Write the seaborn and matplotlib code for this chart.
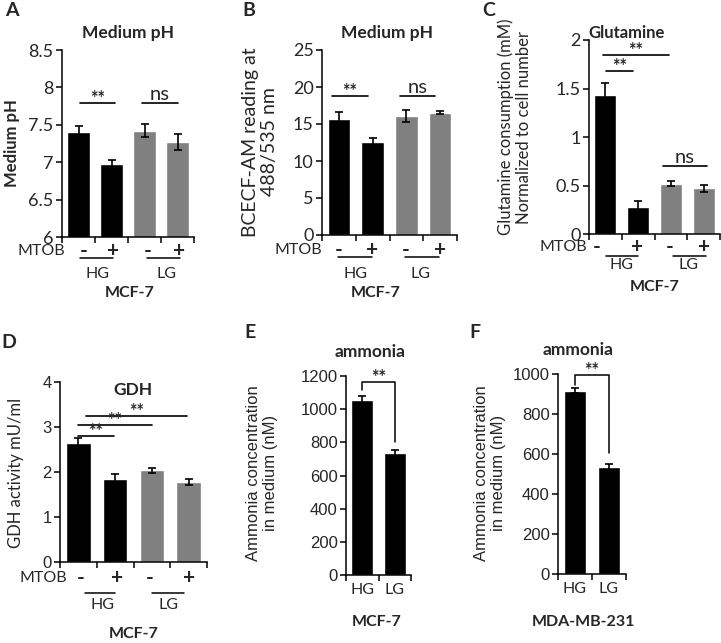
import numpy as np
import pandas as pd
import matplotlib
matplotlib.use("Agg")
import matplotlib.pyplot as plt
import seaborn as sns

# ---- data ----
conds = ["HG -", "HG +", "LG -", "LG +"]
ph_mean = [7.40, 6.97, 7.42, 7.27]
ph_err = [0.08, 0.06, 0.085, 0.105]
bcecf_mean = [15.7, 12.6, 16.1, 16.5]
bcecf_err = [0.9, 0.45, 0.85, 0.2]
gln_mean = [1.43, 0.28, 0.52, 0.47]
gln_err = [0.13, 0.06, 0.025, 0.04]
gdh_mean = [2.64, 1.84, 2.04, 1.78]
gdh_err = [0.11, 0.12, 0.06, 0.06]
glucose = ["HG", "LG"]
nh3_mcf7 = [1054, 736]
nh3_mcf7_err = [28, 18]
nh3_mda = [917, 533]
nh3_mda_err = [12, 17]
bar_colors = ["black", "black", "#808080", "#808080"]

W, H = 721, 643
sns.set_style("ticks")
plt.rcParams["font.family"] = ["Lato", "DejaVu Sans"]
CAL = ["Lato", "DejaVu Sans"]
ARI = ["Liberation Sans", "DejaVu Sans"]

fig = plt.figure(figsize=(W / 100, H / 100), dpi=100)


def make_ax(box):
    l, t, r, b = box
    return fig.add_axes([l / W, 1 - b / H, (r - l) / W, (b - t) / H])


def bar_panel(box, cats, vals, errs, colors, ylim, yticks, tickfont):
    ax = make_ax(box)
    df = pd.DataFrame({"cond": cats, "val": vals})
    sns.barplot(data=df, x="cond", y="val", hue="cond", palette=dict(zip(cats, colors)),
                legend=False, width=0.67, saturation=1, ax=ax)
    ax.errorbar(np.arange(len(vals)), vals, yerr=errs, fmt="none", ecolor="black",
                elinewidth=1.2, capsize=3, capthick=1.2)
    n = len(vals)
    ax.set_xlim(-0.5, n - 0.5)
    ax.set_ylim(*ylim)
    ax.set_yticks(yticks)
    ax.set_yticklabels([f"{v:g}" for v in yticks], family=tickfont,
                       fontsize=13 if tickfont is CAL else 12)
    ax.set_xticks(np.arange(n + 1) - 0.5)
    ax.set_xticklabels([])
    ax.set_xlabel("")
    ax.set_ylabel("")
    sns.despine(ax=ax)
    for s in ("left", "bottom"):
        ax.spines[s].set_linewidth(1.1)
        ax.spines[s].set_color("black")
    ax.tick_params(axis="both", direction="out", length=4, width=1.1, color="black", pad=2)
    return ax


def ty(box, ypx):
    return (box[3] - ypx) / (box[3] - box[1])


def txt(ax, box, x, ypx, s, **kw):
    kw.setdefault("ha", "center")
    kw.setdefault("va", "center")
    ax.text(x, ty(box, ypx), s, transform=ax.get_xaxis_transform(), clip_on=False, **kw)


def uline(ax, box, x0, x1, ypx):
    ax.plot([x0, x1], [ty(box, ypx)] * 2, transform=ax.get_xaxis_transform(),
            color="black", lw=1.1, clip_on=False)


def stars(ax, x, y):
    ax.annotate("**", (x, y), xytext=(0, -3), textcoords="offset points", ha="center",
                va="bottom", fontsize=13, fontweight="bold", family=CAL)


def sig(ax, x0, x1, y, label):
    ax.plot([x0, x1], [y, y], color="black", lw=1.2, clip_on=False)
    if label == "**":
        stars(ax, (x0 + x1) / 2, y)
    else:
        ax.annotate(label, ((x0 + x1) / 2, y), xytext=(0, 0), textcoords="offset points",
                    ha="center", va="bottom", fontsize=14.5, family=CAL)


def mtob_row(ax, box, mt_x, ypm, xs, ul, yul, hgx, lgx, yhg, mcfx, ymcf):
    txt(ax, box, mt_x, ypm, "MTOB", ha="right", fontsize=11.5, family=CAL)
    for x, s in zip(xs, ["-", "+", "-", "+"]):
        txt(ax, box, x, ypm, s, fontsize=15, fontweight="bold", family=CAL)
    uline(ax, box, ul[0], ul[1], yul)
    uline(ax, box, ul[2], ul[3], yul)
    txt(ax, box, hgx, yhg, "HG", fontsize=11.5, family=CAL)
    txt(ax, box, lgx, yhg, "LG", fontsize=11.5, family=CAL)
    txt(ax, box, mcfx, ymcf, "MCF-7", fontsize=11.5, fontweight="bold", family=CAL)


def letter(x, y, s):
    fig.text(x / W, 1 - y / H, s, ha="center", va="center", fontsize=14,
             fontweight="bold", family=CAL)


def ylab(x, y, s, **kw):
    fig.text(x / W, 1 - y / H, s, ha="center", va="center", rotation=90,
             linespacing=1.15, **kw)


# ---- A ----
boxA = (62, 50, 194, 237)
axA = bar_panel(boxA, conds, ph_mean, ph_err, bar_colors, (6, 8.5),
                [6, 6.5, 7, 7.5, 8, 8.5], CAL)
sig(axA, 0.05, 1.12, 7.79, "**")
sig(axA, 1.92, 3.0, 7.79, "ns")
txt(axA, boxA, 1.5, 33, "Medium pH", fontsize=12.5, fontweight="bold", family=CAL)
mtob_row(axA, boxA, -0.41, 251, [0.15, 1.05, 2.1, 3.05], [0.05, 1.05, 2.08, 3.08], 258,
         0.59, 2.68, 274, 1.56, 293)
ylab(12, 143, "Medium pH", fontsize=12, fontweight="bold", family=CAL)
letter(12, 11, "A")

# ---- B ----
boxB = (322, 50, 457, 235)
axB = bar_panel(boxB, conds, bcecf_mean, bcecf_err, bar_colors, (0, 25),
                [0, 5, 10, 15, 20, 25], CAL)
sig(axB, -0.2, 0.85, 18.8, "**")
sig(axB, 1.8, 2.85, 18.8, "ns")
txt(axB, boxB, 1.42, 33, "Medium pH", fontsize=12.5, fontweight="bold", family=CAL)
mtob_row(axB, boxB, -0.5, 250, [0.0, 0.98, 1.99, 2.99], [-0.03, 0.98, 1.96, 2.96], 257,
         0.48, 2.43, 274, 1.1, 293)
ylab(260, 142, "BCECF-AM reading at\n488/535 nm", fontsize=14, family=CAL)
letter(249, 11, "B")

# ---- C ----
boxC = (589, 40, 720, 234)
axC = bar_panel(boxC, conds, gln_mean, gln_err, bar_colors, (0, 2),
                [0, 0.5, 1, 1.5, 2], CAL)
sig(axC, 0.02, 0.84, 1.68, "**")
sig(axC, -0.07, 1.94, 1.85, "**")
sig(axC, 1.76, 3.1, 0.70, "ns")
txt(axC, boxC, 0.66, 33, "Glutamine", fontsize=12, fontweight="bold", family=CAL)
mtob_row(axC, boxC, -0.55, 247, [-0.26, 0.97, 1.97, 3.0],
         [0.02, 1.0, 2.06, 3.07], 256, 0.5, 2.53, 265, 1.5, 287)
ylab(515, 127, "Glutamine consumption (mM)\nNormalized to cell number", fontsize=12, family=CAL)
letter(489, 11, "C")

# ---- D ----
boxD = (60, 382, 207, 562)
axD = bar_panel(boxD, conds, gdh_mean, gdh_err, bar_colors, (0, 4),
                [0, 1, 2, 3, 4], ARI)
sig(axD, -0.01, 0.97, 2.81, "**")
sig(axD, -0.01, 2.0, 3.05, "**")
sig(axD, 0.21, 2.96, 3.24, "**")
txt(axD, boxD, 1.49, 390, "GDH", fontsize=12.5, fontweight="bold", family=CAL)
mtob_row(axD, boxD, -0.31, 578, [0.05, 1.05, 1.95, 3.0], [0.18, 1.0, 2.0, 2.88], 593,
         0.67, 2.44, 605, 1.49, 634)
ylab(16, 473, "GDH activity mU/ml", fontsize=12, family=CAL)
letter(9, 342, "D")


# ---- E / F ----
def ammonia_panel(box, vals, errs, ylim, yticks, br, cell, cellx):
    ax = bar_panel(box, glucose, vals, errs, ["black", "black"], ylim, yticks, ARI)
    ax.set_xticks([0, 1], minor=True)
    ax.set_xticklabels(glucose, minor=True, fontsize=11.5, family=CAL)
    ax.tick_params(axis="x", which="minor", length=0, pad=6)
    top, l_low, r_low = br
    ax.plot([0, 0, 1, 1], [l_low, top, top, r_low], color="black", lw=1.1)
    stars(ax, 0.5, top)
    txt(ax, box, cellx, 622, cell, fontsize=11.5, fontweight="bold", family=CAL)
    return ax


boxE = (346, 376, 411, 575)
axE = ammonia_panel(boxE, nh3_mcf7, nh3_mcf7_err, (0, 1200),
                    [0, 200, 400, 600, 800, 1000, 1200], (1164, 1114, 800), "MCF-7", 0.45)
txt(axE, boxE, 0.24, 352, "ammonia", fontsize=12.5, fontweight="bold", family=CAL)
ylab(262, 473, "Ammonia concentration\nin medium (nM)", fontsize=12, family=ARI)
letter(250, 333, "E")

boxF = (558, 374, 626, 574)
axF = ammonia_panel(boxF, nh3_mda, nh3_mda_err, (0, 1000),
                    [0, 200, 400, 600, 800, 1000], (995, 945, 603), "MDA-MB-231", 0.24)
txt(axF, boxF, 0.09, 350, "ammonia", fontsize=12.5, fontweight="bold", family=CAL)
ylab(490, 473, "Ammonia concentration\nin medium (nM)", fontsize=12, family=ARI)
letter(475, 333, "F")

fig.savefig("out.png", dpi=100)
